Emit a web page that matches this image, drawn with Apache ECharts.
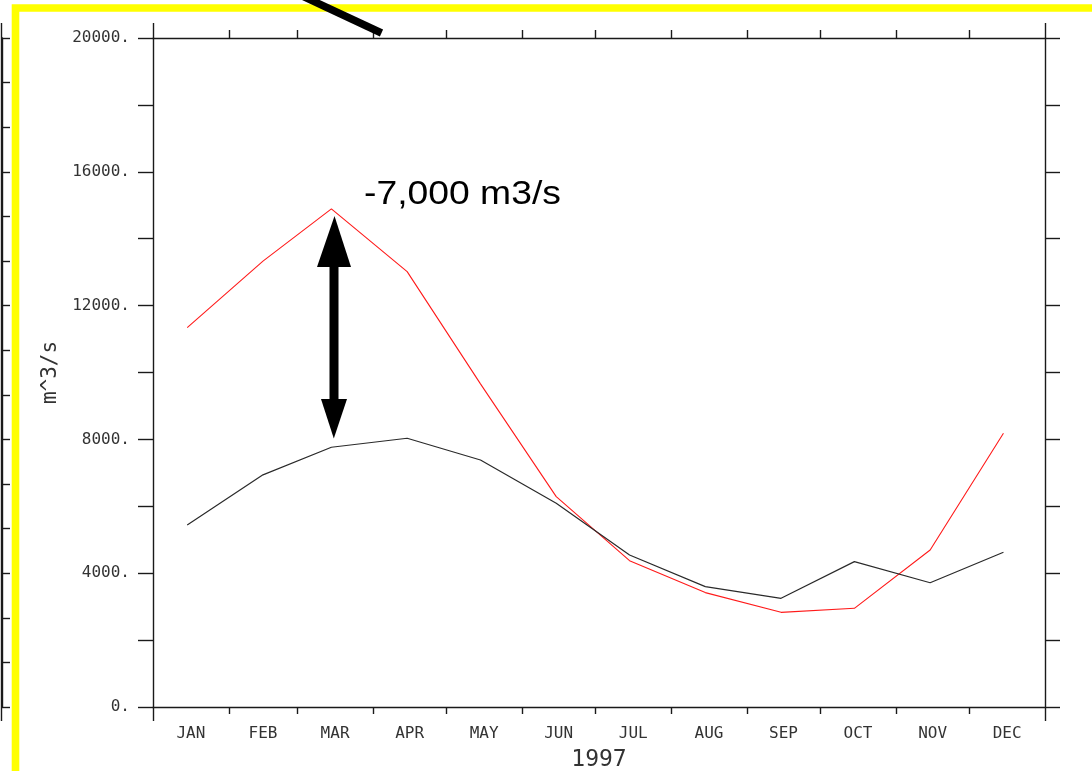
<!DOCTYPE html>
<html>
<head>
<meta charset="utf-8">
<script src="https://cdn.jsdelivr.net/npm/echarts@6/dist/echarts.min.js"></script>
<style>
  html, body { margin: 0; padding: 0; background: #fff; }
  #chart { width: 1092px; height: 771px; }
</style>
</head>
<body>
<div id="chart"></div>
<script>
// ---- data ----
const monthNames = ['JAN','FEB','MAR','APR','MAY','JUN','JUL','AUG','SEP','OCT','NOV','DEC'];
const monthStarts = ['1997-01-01','1997-02-01','1997-03-01','1997-04-01','1997-05-01','1997-06-01',
                     '1997-07-01','1997-08-01','1997-09-01','1997-10-01','1997-11-01','1997-12-01','1998-01-01'];
const pointDates = ['1997-01-15','1997-02-15','1997-03-15','1997-04-15','1997-05-15','1997-06-15',
                    '1997-07-15','1997-08-15','1997-09-15','1997-10-15','1997-11-15','1997-12-15'];
const redFlow   = [11340, 13330, 14890, 13016, 9660, 6290, 4375, 3420, 2830, 2950, 4695, 8185];
const blackFlow = [5440, 6940, 7765, 8035, 7385, 6090, 4545, 3600, 3250, 4345, 3715, 4625];
const yTicks = [0, 4000, 8000, 12000, 16000, 20000];
const yearLabel = '1997';
const yName = 'm^3/s';
const noteText = '-7,000 m3/s';

// ---- helpers ----
function t(s) { const p = s.split('-').map(Number); return Date.UTC(p[0], p[1] - 1, p[2]); }
const startTs = monthStarts.map(t);
const midTs = startTs.slice(0, 12).map((v, i) => (v + startTs[i + 1]) / 2);
const xMin = startTs[0], xMax = startTs[12];
const redData = pointDates.map((d, i) => [t(d), redFlow[i]]);
const blackData = pointDates.map((d, i) => [t(d), blackFlow[i]]);

const axisColor = '#1a1a1a';
const labelFont = { fontFamily: 'DejaVu Sans Mono', fontSize: 16, color: '#333' };

function xAx(pos, tickVals, len, showLine) {
  return {
    type: 'value', position: pos, min: xMin, max: xMax, scale: true,
    axisLine: { show: showLine, onZero: false, lineStyle: { color: axisColor, width: 1.4 } },
    axisTick: { show: true, inside: false, length: len, customValues: tickVals, lineStyle: { color: axisColor, width: 1.4 } },
    axisLabel: { show: false },
    splitLine: { show: false }
  };
}

const chart = echarts.init(document.getElementById('chart'), null, { renderer: 'canvas' });
chart.setOption({
  animation: false,
  backgroundColor: '#fff',
  grid: { left: 153, right: 47, top: 38, bottom: 64, containLabel: false, outerBoundsMode: 'none' },
  xAxis: [
    Object.assign(xAx('bottom', startTs.slice(1, 12), 7, true), {
      name: yearLabel, nameLocation: 'middle', nameGap: 42,
      nameTextStyle: { fontFamily: 'DejaVu Sans Mono', fontSize: 23, color: '#333' },
      axisLabel: Object.assign({ show: true, margin: 19, customValues: midTs, hideOverlap: false,
        formatter: v => monthNames[new Date(v).getUTCMonth()] }, labelFont)
    }),
    xAx('top', startTs.slice(1, 12), 8, true),
    xAx('bottom', [xMin, xMax], 14, false),
    xAx('top', [xMin, xMax], 15, false)
  ],
  yAxis: [
    {
      type: 'value', position: 'left', min: 0, max: 20000, interval: 2000,
      name: yName, nameLocation: 'middle', nameGap: 90, nameRotate: 90,
      nameTextStyle: { fontFamily: 'DejaVu Sans Mono', fontSize: 21, color: '#333' },
      axisLine: { show: true, onZero: false, lineStyle: { color: axisColor, width: 1.4 } },
      axisTick: { show: true, inside: false, length: 15, lineStyle: { color: axisColor, width: 1.4 } },
      axisLabel: Object.assign({ show: true, margin: 23,
        formatter: v => (yTicks.indexOf(v) >= 0 ? v + '.' : '') }, labelFont),
      splitLine: { show: false }
    },
    {
      type: 'value', position: 'right', min: 0, max: 20000, interval: 2000,
      axisLine: { show: true, onZero: false, lineStyle: { color: axisColor, width: 1.4 } },
      axisTick: { show: true, inside: false, length: 15, lineStyle: { color: axisColor, width: 1.4 } },
      axisLabel: { show: false },
      splitLine: { show: false }
    },
    {
      type: 'value', position: 'left', offset: 151, min: 0, max: 15, interval: 1,
      axisLine: { show: true, onZero: false, lineStyle: { color: axisColor, width: 1.4 } },
      axisTick: { show: true, inside: true, length: 8, lineStyle: { color: axisColor, width: 1.4 } },
      axisLabel: { show: false },
      splitLine: { show: false }
    }
  ],
  series: [
    {
      type: 'line', name: 'red', data: redData, xAxisIndex: 0, yAxisIndex: 0,
      showSymbol: false, symbol: 'none',
      lineStyle: { color: '#ff1a1a', width: 1.1 }, z: 3
    },
    {
      type: 'line', name: 'black', data: blackData, xAxisIndex: 0, yAxisIndex: 0,
      showSymbol: false, symbol: 'none',
      lineStyle: { color: '#2a2a2a', width: 1.2 }, z: 3
    }
  ],
  graphic: [
    { type: 'line', z: 5, shape: { x1: 1.5, y1: 23, x2: 1.5, y2: 721 }, style: { stroke: axisColor, lineWidth: 1.4 } },
    { type: 'rect', z: 10, shape: { x: 15.5, y: 8, width: 1300, height: 1000 },
      style: { fill: 'none', stroke: '#ffff00', lineWidth: 7.6 } },
    { type: 'line', z: 11, shape: { x1: 298, y1: -6, x2: 381.5, y2: 33 },
      style: { stroke: '#000', lineWidth: 7.5, lineCap: 'butt' } },
    { type: 'rect', z: 11, shape: { x: 329.5, y: 262, width: 9, height: 141 }, style: { fill: '#000' } },
    { type: 'polygon', z: 11, shape: { points: [[334.5, 216], [317, 267], [351, 267]] }, style: { fill: '#000' } },
    { type: 'polygon', z: 11, shape: { points: [[333.8, 438.5], [321, 399], [347, 399]] }, style: { fill: '#000' } },
    { type: 'text', z: 11, x: 364, y: 195, scaleX: 1.13, scaleY: 1,
      style: { text: noteText, x: 0, y: 0, fontFamily: 'Liberation Sans', fontSize: 33,
        fill: '#000', textAlign: 'left', textVerticalAlign: 'middle', verticalAlign: 'middle' } }
  ]
});
</script>
</body>
</html>
